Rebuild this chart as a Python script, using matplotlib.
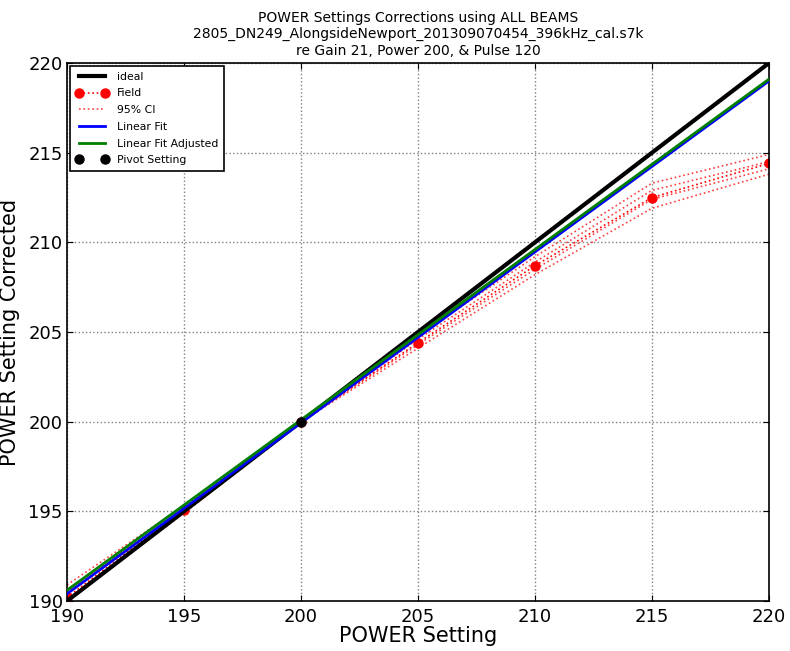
import matplotlib
matplotlib.use('Agg')
import matplotlib.pyplot as plt
import numpy as np

# power settings and measured corrections
power = [190, 195, 200, 205, 210, 215, 220]
field = [190.2, 195.1, 200.0, 204.4, 208.7, 212.5, 214.4]

# confidence bands around the field values
ci_upper_outer = [190.9, 195.3, 200.0, 204.8, 209.2, 213.3, 214.9]
ci_upper_inner = [190.5, 195.2, 200.0, 204.6, 208.9, 212.9, 214.5]
ci_lower_inner = [190.1, 195.0, 200.0, 204.3, 208.5, 212.4, 214.1]
ci_lower_outer = [190.0, 194.9, 200.0, 204.1, 208.2, 211.9, 213.8]

# fitted lines evaluated at the ends of the range
fit_x = [190, 220]
fit_y = [190.4, 219.0]
fit_adj_y = [190.6, 219.1]

pivot_x = [200]
pivot_y = [200]

title = ('POWER Settings Corrections using ALL BEAMS\n'
         '2805_DN249_AlongsideNewport_201309070454_396kHz_cal.s7k\n'
         're Gain 21, Power 200, & Pulse 120')

fig = plt.figure(figsize=(7.9, 6.51), dpi=100)
ax = fig.add_axes([0.0848, 0.0768, 0.8886, 0.8264])

ax.plot(power, power, color='black', lw=3, label='ideal', zorder=3)
ax.plot(power, field, color='red', ls=':', lw=1.2, marker='o', ms=6.5,
        mec='red', label='Field', zorder=2)
ax.plot(power, ci_upper_outer, color='red', ls=':', lw=1.2, alpha=0.75,
        label='95% CI', zorder=2)
for band in [ci_upper_inner, ci_lower_inner, ci_lower_outer]:
    ax.plot(power, band, color='red', ls=':', lw=1.2, alpha=0.75, zorder=2)
ax.plot(fit_x, fit_y, color='blue', lw=2, label='Linear Fit', zorder=4)
ax.plot(fit_x, fit_adj_y, color='green', lw=2,
        label='Linear Fit Adjusted', zorder=5)
ax.plot(pivot_x, pivot_y, 'o', color='black', ms=6.5,
        label='Pivot Setting', zorder=6)

ax.set_xlim(190, 220)
ax.set_ylim(190, 220)
ax.set_xticks(np.arange(190, 221, 5))
ax.set_yticks(np.arange(190, 221, 5))
ax.tick_params(direction='in', top=True, right=True, labelsize=13,
               length=4, pad=3)
ax.tick_params(axis='x', pad=5)
ax.grid(True, color='gray', ls=':', lw=1)
for s in ax.spines.values():
    s.set_linewidth(1.2)

ax.set_xlabel('POWER Setting', fontsize=15, labelpad=0)
ax.set_ylabel('POWER Setting Corrected', fontsize=15, labelpad=6)
ax.set_title(title, fontsize=10, linespacing=1.2, pad=6)

leg = ax.legend(loc='upper left', numpoints=2, fontsize=7.8, fancybox=False,
                edgecolor='black', framealpha=1, borderaxespad=0.3,
                handlelength=3, labelspacing=0.62, borderpad=0.5)
leg.get_frame().set_linewidth(1.2)

fig.savefig('out.png', dpi=100)
